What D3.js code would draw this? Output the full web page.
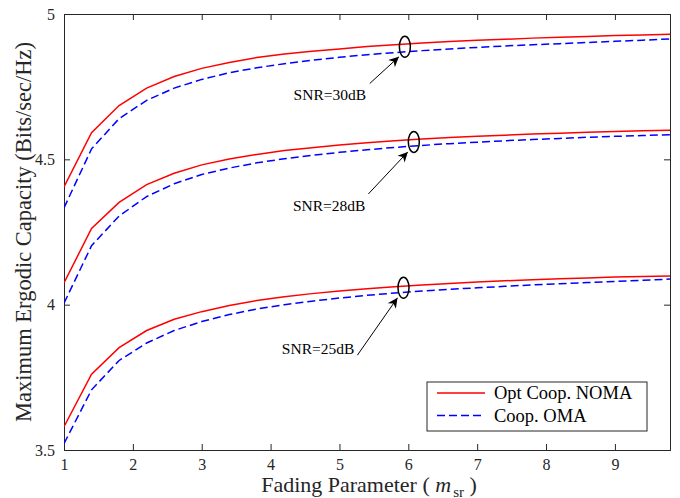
<!DOCTYPE html>
<html>
<head>
<meta charset="utf-8">
<script src="https://cdn.jsdelivr.net/npm/d3@7"></script>
<style>
  body { margin: 0; background: #fff; }
  text { font-family: "Liberation Serif", "Times New Roman", serif; }
</style>
</head>
<body>
<div id="chart"></div>
<script>
// ─── Data ────────────────────────────────────────────────────────────────
const mValues = [1.0, 1.4, 1.8, 2.2, 2.6, 3.0, 3.4, 3.8, 4.2, 4.6, 5.0, 5.4,
                 5.8, 6.2, 6.6, 7.0, 7.4, 7.8, 8.2, 8.6, 9.0, 9.4, 9.8];

const noma30 = [4.405, 4.592, 4.685, 4.745, 4.785, 4.813, 4.833, 4.850, 4.862, 4.872, 4.880, 4.888,
                4.894, 4.900, 4.905, 4.910, 4.913, 4.917, 4.920, 4.923, 4.926, 4.928, 4.930];
const oma30  = [4.333, 4.536, 4.640, 4.703, 4.745, 4.775, 4.798, 4.815, 4.829, 4.841, 4.851, 4.860,
                4.867, 4.874, 4.880, 4.885, 4.890, 4.894, 4.898, 4.902, 4.906, 4.910, 4.914];

const noma28 = [4.075, 4.262, 4.352, 4.413, 4.452, 4.481, 4.501, 4.517, 4.530, 4.540, 4.549, 4.557,
                4.564, 4.570, 4.575, 4.579, 4.583, 4.587, 4.590, 4.593, 4.596, 4.598, 4.600];
const oma28  = [4.005, 4.203, 4.305, 4.372, 4.416, 4.448, 4.470, 4.488, 4.502, 4.514, 4.524, 4.533,
                4.541, 4.548, 4.554, 4.559, 4.564, 4.568, 4.572, 4.576, 4.579, 4.582, 4.585];

const noma25 = [3.580, 3.761, 3.852, 3.911, 3.950, 3.976, 3.997, 4.014, 4.027, 4.038, 4.047, 4.055,
                4.062, 4.068, 4.073, 4.078, 4.082, 4.086, 4.089, 4.092, 4.095, 4.097, 4.099];
const oma25  = [3.522, 3.707, 3.808, 3.868, 3.911, 3.942, 3.966, 3.985, 4.000, 4.012, 4.023, 4.032,
                4.040, 4.047, 4.053, 4.058, 4.063, 4.068, 4.072, 4.076, 4.080, 4.084, 4.088];

const xTicks = [1, 2, 3, 4, 5, 6, 7, 8, 9];
const yTicks = [3.5, 4, 4.5, 5];

// annotation: ellipse centre, arrow tail and label position (data units)
const snrLabels  = ['SNR=30dB', 'SNR=28dB', 'SNR=25dB'];
const ellipseX   = [5.95, 6.08, 5.93];
const ellipseY   = [4.887, 4.560, 4.058];
const arrowTailX = [5.44, 5.42, 5.26];
const arrowTailY = [4.761, 4.381, 3.826];
const labelX     = [4.86, 4.85, 4.69];
const labelY     = [4.705, 4.323, 3.830];

const seriesNames = ['Opt Coop. NOMA', 'Coop. OMA'];

// ─── Layout ──────────────────────────────────────────────────────────────
const W = 680, H = 498;
const margin = { left: 64, right: 10, top: 14, bottom: 48 };
const x = d3.scaleLinear().domain([1, 9.8]).range([margin.left, W - margin.right]);
const y = d3.scaleLinear().domain([3.5, 5]).range([H - margin.bottom, margin.top]);

const svg = d3.select('#chart').append('svg').attr('width', W).attr('height', H);

const AXIS = '#262626';

// Axes (box with inward ticks)
const gx = svg.append('g').attr('transform', `translate(0,${y(3.5)})`)
    .call(d3.axisBottom(x).tickValues(xTicks).tickSize(-6).tickPadding(9).tickFormat(d3.format('d')));
const gxTop = svg.append('g').attr('transform', `translate(0,${y(5)})`)
    .call(d3.axisTop(x).tickValues(xTicks).tickSize(-6).tickFormat(''));
const gy = svg.append('g').attr('transform', `translate(${x(1)},0)`)
    .call(d3.axisLeft(y).tickValues(yTicks).tickSize(-6).tickPadding(9).tickFormat(d => String(d)));
const gyRight = svg.append('g').attr('transform', `translate(${x(9.8)},0)`)
    .call(d3.axisRight(y).tickValues(yTicks).tickSize(-6).tickFormat(''));

[gx, gxTop, gy, gyRight].forEach(g => {
    g.select('.domain').attr('stroke', AXIS).attr('stroke-width', 1);
    g.selectAll('.tick line').attr('stroke', AXIS).attr('stroke-width', 1);
    g.selectAll('.tick text').attr('fill', AXIS).style('font-size', '16px')
        .style('font-family', '"Liberation Serif", serif');
});

// ─── Curves ──────────────────────────────────────────────────────────────
const line = d3.line().x((d, i) => x(mValues[i])).y(d => y(d));

const curves = [
    { v: noma30, oma: false }, { v: oma30, oma: true },
    { v: noma28, oma: false }, { v: oma28, oma: true },
    { v: noma25, oma: false }, { v: oma25, oma: true }
];

svg.append('defs').append('clipPath').attr('id', 'clip')
    .append('rect').attr('x', x(1)).attr('y', y(5))
    .attr('width', x(9.8) - x(1)).attr('height', y(3.5) - y(5));

const plot = svg.append('g').attr('clip-path', 'url(#clip)');
curves.forEach(c => {
    plot.append('path')
        .attr('d', line(c.v))
        .attr('fill', 'none')
        .attr('stroke', c.oma ? '#0000ff' : '#ff0000')
        .attr('stroke-width', 1.5)
        .attr('stroke-dasharray', c.oma ? '8,4' : null);
});

// ─── Annotations ─────────────────────────────────────────────────────────
svg.append('defs').append('marker')
    .attr('id', 'arrow').attr('viewBox', '0 0 10 10')
    .attr('refX', 10).attr('refY', 5)
    .attr('markerWidth', 14).attr('markerHeight', 10)
    .attr('markerUnits', 'userSpaceOnUse')
    .attr('orient', 'auto')
    .append('path').attr('d', 'M0,0 L10,5 L0,10 L3,5 Z').attr('fill', '#000');

snrLabels.forEach((lab, i) => {
    const cx = x(ellipseX[i]), cy = y(ellipseY[i]);
    svg.append('ellipse')
        .attr('cx', cx).attr('cy', cy).attr('rx', 5.5).attr('ry', 10.5)
        .attr('fill', 'none').attr('stroke', '#000').attr('stroke-width', 1.5);

    // arrow head stops at the lower-left edge of the ellipse
    const tx = x(arrowTailX[i]), ty = y(arrowTailY[i]);
    const hx = cx - 6, hy = cy + 10;
    svg.append('line')
        .attr('x1', tx).attr('y1', ty).attr('x2', hx).attr('y2', hy)
        .attr('stroke', '#000').attr('stroke-width', 1)
        .attr('marker-end', 'url(#arrow)');

    svg.append('text')
        .attr('x', x(labelX[i])).attr('y', y(labelY[i]))
        .attr('text-anchor', 'middle')
        .style('font-size', '15.5px').attr('fill', '#000')
        .text(lab);
});

// ─── Legend ──────────────────────────────────────────────────────────────
const lg = svg.append('g').attr('transform', 'translate(427,382)');
lg.append('rect').attr('width', 220).attr('height', 49)
    .attr('fill', '#fff').attr('stroke', AXIS).attr('stroke-width', 1);
seriesNames.forEach((name, i) => {
    const ly = 11 + i * 22.5;
    lg.append('line').attr('x1', 10).attr('x2', 58).attr('y1', ly).attr('y2', ly)
        .attr('stroke', i ? '#0000ff' : '#ff0000').attr('stroke-width', 1.5)
        .attr('stroke-dasharray', i ? '8,4' : null);
    lg.append('text').attr('x', 67).attr('y', ly + 6)
        .style('font-size', '18.5px').attr('fill', '#000').text(name);
});

// ─── Axis titles ─────────────────────────────────────────────────────────
const xt = svg.append('text')
    .attr('x', 369).attr('y', 492)
    .attr('text-anchor', 'middle')
    .style('font-size', '22px').attr('fill', AXIS);
xt.append('tspan').text('Fading Parameter ( ');
xt.append('tspan').style('font-style', 'italic').text('m');
xt.append('tspan').attr('dy', 5).attr('dx', 2).style('font-size', '15px').text('sr');
xt.append('tspan').attr('dy', -5).text(' )');

svg.append('text')
    .attr('transform', `translate(31,${(y(5) + y(3.5)) / 2}) rotate(-90)`)
    .attr('text-anchor', 'middle')
    .style('font-size', '22.5px').attr('fill', AXIS)
    .text('Maximum Ergodic Capacity (Bits/sec/Hz)');
</script>
</body>
</html>
